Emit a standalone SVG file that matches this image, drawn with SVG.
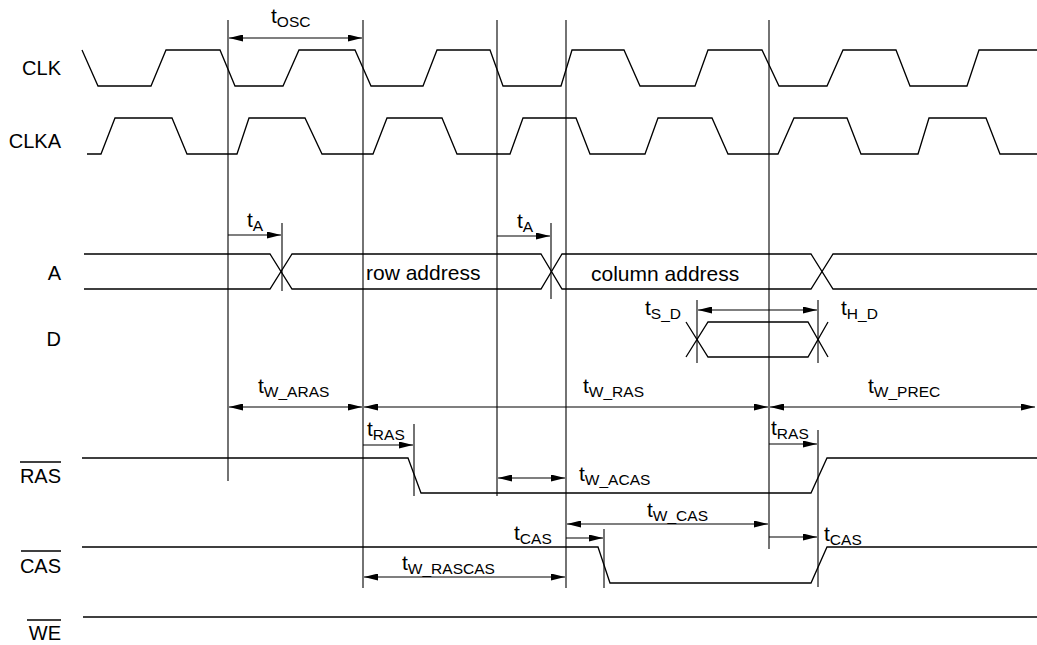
<svg xmlns="http://www.w3.org/2000/svg" width="1037" height="645" viewBox="0 0 1037 645">
<style>
.w{fill:none;stroke:#000;stroke-width:1.3;stroke-linejoin:miter}
.g{fill:none;stroke:#000;stroke-width:1.1}
.a{fill:none;stroke:#000;stroke-width:1.2}
.ov{stroke:#000;stroke-width:1.4}
text{font-family:"Liberation Sans",Arial,sans-serif;fill:#000}
.lbl{font-size:20px;text-anchor:end}
.t{font-size:21px}
.s{font-size:15.5px}
</style>
<defs>
<marker id="ah" viewBox="0 0 14 7" refX="14" refY="3.5" markerWidth="14" markerHeight="7" markerUnits="userSpaceOnUse" orient="auto-start-reverse"><path d="M0,0L14,3.5L0,7z" fill="#000"/></marker>
</defs>
<rect width="1037" height="645" fill="#fff"/>

<g id="clk">
<text class="lbl" x="61" y="75">CLK</text>
<path class="w" d="M82,50 L98,86 H151 L166,50 H220 L235,86 H283 L299,50 H355 L371,86 H423 L437,50 H490 L503,86 H561 L572,50 H624 L640,86 H695 L708,50 H762 L779,86 H827 L843,50 H896 L910,86 H967 L979,50 H1037"/>
</g>
<g id="clka">
<text class="lbl" x="61" y="148">CLKA</text>
<path class="w" d="M87,154 H101 L115,118 H172 L187,154 H237 L249,118 H305 L322,154 H373 L387,118 H442 L457,154 H510 L523,118 H576 L590,154 H645 L658,118 H712 L728,154 H778 L794,118 H847 L861,154 H918 L929,118 H986 L1000,154 H1037"/>
</g>
<g id="a">
<text class="lbl" x="61" y="280">A</text>
<path class="w" d="M84,254 H270 L292,289 H541 L562,254 H811 L833,289 H1037"/>
<path class="w" d="M84,289 H270 L292,254 H541 L562,289 H811 L833,254 H1037"/>
<text class="t" x="366" y="280">row address</text>
<text class="t" x="591" y="281">column address</text>
</g>
<g id="d">
<text class="lbl" x="61" y="346">D</text>
<path class="w" d="M686,322 L708,357 H808 L828,322"/>
<path class="w" d="M686,357 L708,322 H808 L828,357"/>
</g>
<g id="ras">
<text class="lbl" x="61" y="483">RAS</text>
<line class="ov" x1="20" y1="462" x2="61" y2="462"/>
<path class="w" d="M82,458 H408 L421,493 H811 L827,458 H1037"/>
</g>
<g id="cas">
<text class="lbl" x="61" y="573">CAS</text>
<line class="ov" x1="21" y1="551" x2="61" y2="551"/>
<path class="w" d="M82,547 H598 L610,583 H811 L827,547 H1037"/>
</g>
<g id="we">
<text class="lbl" x="61" y="640">WE</text>
<line class="ov" x1="27" y1="620" x2="61" y2="620"/>
<path class="w" d="M83,617 H1037"/>
</g>

<g id="connectors">
<line class="g" x1="228" y1="20" x2="228" y2="481"/>
<line class="g" x1="363" y1="20" x2="363" y2="588"/>
<line class="g" x1="497" y1="20" x2="497" y2="496"/>
<line class="g" x1="566" y1="20" x2="566" y2="588"/>
<line class="g" x1="769" y1="20" x2="769" y2="549"/>
<line class="g" x1="282" y1="223" x2="282" y2="291"/>
<line class="g" x1="551" y1="223" x2="551" y2="299"/>
<line class="g" x1="697" y1="300" x2="697" y2="363"/>
<line class="g" x1="818" y1="300" x2="818" y2="363"/>
<line class="g" x1="414" y1="424" x2="414" y2="496"/>
<line class="g" x1="818" y1="430" x2="818" y2="587"/>
<line class="g" x1="604" y1="529" x2="604" y2="588"/>

<line class="a" x1="229" y1="38" x2="362" y2="38" marker-start="url(#ah)" marker-end="url(#ah)"/>
<line class="a" x1="228" y1="235" x2="281" y2="235" marker-end="url(#ah)"/>
<line class="a" x1="497" y1="236" x2="550" y2="236" marker-end="url(#ah)"/>
<line class="a" x1="698" y1="310" x2="817" y2="310" marker-start="url(#ah)" marker-end="url(#ah)"/>
<line class="a" x1="229" y1="407" x2="362" y2="407" marker-start="url(#ah)" marker-end="url(#ah)"/>
<line class="a" x1="364" y1="407" x2="768" y2="407" marker-start="url(#ah)" marker-end="url(#ah)"/>
<line class="a" x1="770" y1="407" x2="1035" y2="407" marker-start="url(#ah)" marker-end="url(#ah)"/>
<line class="a" x1="363" y1="445" x2="413" y2="445" marker-end="url(#ah)"/>
<line class="a" x1="769" y1="444" x2="817" y2="444" marker-end="url(#ah)"/>
<line class="a" x1="498" y1="478" x2="565" y2="478" marker-start="url(#ah)" marker-end="url(#ah)"/>
<line class="a" x1="567" y1="524" x2="768" y2="524" marker-start="url(#ah)" marker-end="url(#ah)"/>
<line class="a" x1="566" y1="538" x2="603" y2="538" marker-end="url(#ah)"/>
<line class="a" x1="769" y1="537" x2="817" y2="537" marker-end="url(#ah)"/>
<line class="a" x1="364" y1="577" x2="565" y2="577" marker-start="url(#ah)" marker-end="url(#ah)"/>

<text class="t" x="271" y="23">t<tspan class="s" dy="4">OSC</tspan></text>
<text class="t" x="247" y="227">t<tspan class="s" dy="4">A</tspan></text>
<text class="t" x="517" y="228">t<tspan class="s" dy="4">A</tspan></text>
<text class="t" x="645" y="315">t<tspan class="s" dy="4">S_D</tspan></text>
<text class="t" x="841" y="315">t<tspan class="s" dy="4">H_D</tspan></text>
<text class="t" x="258" y="393">t<tspan class="s" dy="4">W_ARAS</tspan></text>
<text class="t" x="583" y="393">t<tspan class="s" dy="4">W_RAS</tspan></text>
<text class="t" x="868" y="393">t<tspan class="s" dy="4">W_PREC</tspan></text>
<text class="t" x="367" y="436">t<tspan class="s" dy="4">RAS</tspan></text>
<text class="t" x="771" y="435">t<tspan class="s" dy="4">RAS</tspan></text>
<text class="t" x="579" y="481">t<tspan class="s" dy="4">W_ACAS</tspan></text>
<text class="t" x="647" y="517">t<tspan class="s" dy="4">W_CAS</tspan></text>
<text class="t" x="514" y="540">t<tspan class="s" dy="4">CAS</tspan></text>
<text class="t" x="824" y="541">t<tspan class="s" dy="4">CAS</tspan></text>
<text class="t" x="402" y="570">t<tspan class="s" dy="4">W_RASCAS</tspan></text>
</g>
</svg>
